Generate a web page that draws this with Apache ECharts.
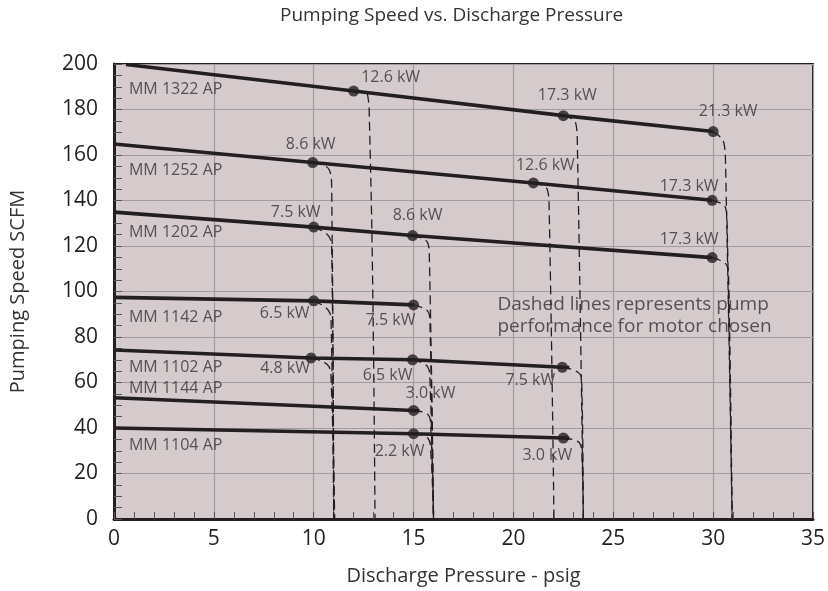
<!DOCTYPE html>
<html><head><meta charset="utf-8">
<script src="https://cdn.jsdelivr.net/npm/echarts@6/dist/echarts.min.js"></script>
<style>html,body{margin:0;padding:0;background:#fff}#c{width:828px;height:591px}</style>
</head><body><div id="c"></div>
<script>
// ---------------- DATA ----------------
const titleText = 'Pumping Speed vs. Discharge Pressure';
const xName = 'Discharge Pressure - psig';
const yName = 'Pumping Speed SCFM';
const noteText = 'Dashed lines represents pump\nperformance for motor chosen';

const models = ['MM 1322 AP','MM 1252 AP','MM 1202 AP','MM 1142 AP','MM 1102 AP','MM 1144 AP','MM 1104 AP'];

// solid pump curves [psig, SCFM]
const line1322 = [[0.6,199.8],[12.0,188.1],[22.5,177.3],[30.0,170.3]];
const line1252 = [[0,164.8],[9.95,156.7],[21.0,147.7],[29.95,140.1]];
const line1202 = [[0,134.9],[10.0,128.3],[14.95,124.6],[29.95,114.9]];
const line1142 = [[0,97.4],[10.0,95.9],[15.0,94.1]];
const line1102 = [[0,74.3],[9.87,70.8],[14.95,70.0],[22.45,66.7],[22.8,66.6]];
const line1144 = [[0,53.3],[15.0,47.7],[15.3,47.6]];
const line1104 = [[0,40.0],[15.0,37.5],[22.5,35.6],[22.8,35.5]];

// motor points [psig, SCFM, label]
const dots1322 = [[12.0,188.1,'12.6 kW'],[22.5,177.3,'17.3 kW'],[30.0,170.3,'21.3 kW']];
const dots1252 = [[9.95,156.7,'8.6 kW'],[21.0,147.7,'12.6 kW'],[29.95,140.1,'17.3 kW']];
const dots1202 = [[10.0,128.3,'7.5 kW'],[14.95,124.6,'8.6 kW'],[29.95,114.9,'17.3 kW']];
const dots1142 = [[10.0,95.9,'6.5 kW'],[15.0,94.1,'7.5 kW']];
const dots1102 = [[9.87,70.8,'4.8 kW'],[14.95,70.0,'6.5 kW'],[22.45,66.7,'7.5 kW']];
const dots1144 = [[15.0,47.7,'3.0 kW']];
const dots1104 = [[15.0,37.5,'2.2 kW'],[22.5,35.6,'3.0 kW']];

// dashed motor-limit curves [psig, SCFM]
const dash1322a = [[12.0,188.1],[12.6,187.4],[12.73,184.6],[12.78,178.4],[12.95,105],[13.07,0]];
const dash1322b = [[22.5,177.3],[23.12,174.0],[23.2,165.2],[23.5,0]];
const dash1322c = [[30.0,170.3],[30.54,165.2],[30.62,156.5],[30.95,0]];
const dash1252a = [[9.95,156.7],[10.79,153.3],[10.9,144.8],[11.0,0]];
const dash1252b = [[21.0,147.7],[21.7,144.8],[21.79,136.1],[22.03,0]];
const dash1252c = [[29.95,140.1],[30.62,136.8],[30.7,130.0],[30.95,0]];
const dash1202a = [[10.0,128.3],[10.75,124.3],[10.9,118.5],[11.0,0]];
const dash1202b = [[14.95,124.6],[15.7,121.5],[15.79,115.6],[16.0,0]];
const dash1202c = [[29.95,114.9],[30.7,111.2],[30.78,105.0],[30.95,0]];
const dash1142a = [[10.0,95.9],[10.75,91.5],[10.87,86.4],[11.0,0]];
const dash1142b = [[15.0,94.1],[15.75,90.8],[15.82,86.4],[16.0,0]];
const dash1102a = [[9.87,70.8],[10.75,67.2],[10.87,61.6],[11.05,0]];
const dash1102b = [[14.95,70.0],[15.72,66.7],[15.82,61.0],[16.0,0]];
const dash1102c = [[22.45,66.7],[23.3,64.0],[23.42,60.0],[23.5,0]];
const dash1144  = [[15.0,47.7],[15.7,46.0],[15.85,42.0],[16.0,0]];
const dash1104a = [[15.0,37.5],[15.72,35.5],[15.85,31.0],[16.0,0]];
const dash1104b = [[22.5,35.6],[23.3,33.5],[23.42,29.0],[23.5,0]];

// ---------------- LAYOUT / STYLE ----------------
const FONT = 'Open Sans';
const INK = '#231f20';
const TXT = '#363132';
const modelLabelAnchors = [[0.75,188.9],[0.75,153.2],[0.75,126.1],[0.75,88.6],[0.75,66.7],[0.75,57.5],[0.75,32.4]];
const noteAnchor = [19.2, 89.6];
const kwOffsets = {
  '1322': [[37,-14],[4,-20],[15,-20]],
  '1252': [[-2,-18],[12,-18],[-23,-14]],
  '1202': [[-18,-15],[5,-20],[-23,-18]],
  '1142': [[-29,13],[-23,16]],
  '1102': [[-26,11],[-25,16],[-32,13]],
  '1144': [[17,-17]],
  '1104': [[-14,18],[-16,17]]
};

const solidLines = {'1322':line1322,'1252':line1252,'1202':line1202,'1142':line1142,'1102':line1102,'1144':line1144,'1104':line1104};
const dotSets = {'1322':dots1322,'1252':dots1252,'1202':dots1202,'1142':dots1142,'1102':dots1102,'1144':dots1144,'1104':dots1104};
const dashSets = [dash1322a,dash1322b,dash1322c,dash1252a,dash1252b,dash1252c,dash1202a,dash1202b,dash1202c,
  dash1142a,dash1142b,dash1102a,dash1102b,dash1102c,dash1144,dash1104a,dash1104b];

const series = [];
dashSets.forEach(d => series.push({
  type:'line', data:d, smooth:0.45, symbol:'none', silent:true, z:3,
  lineStyle:{color:INK, width:1.3, type:[9,5]}
}));
Object.keys(solidLines).forEach(k => series.push({
  type:'line', data:solidLines[k], symbol:'none', silent:true, z:4,
  lineStyle:{color:INK, width:3.6}
}));
Object.keys(dotSets).forEach(k => series.push({
  type:'scatter', symbolSize:11, silent:true, z:5,
  itemStyle:{color:INK},
  data: dotSets[k].map((p,i) => ({
    value:[p[0],p[1]],
    label:{show:true, formatter:p[2], position:'inside', offset:kwOffsets[k][i],
      align:'center', verticalAlign:'middle', fontFamily:FONT, fontSize:16, color:TXT}
  }))
}));
series.push({
  type:'scatter', symbolSize:0, silent:true, z:6,
  data: models.map((m,i) => ({value:modelLabelAnchors[i], name:m})),
  label:{show:true, position:'right', distance:0, formatter:p=>p.name, fontFamily:FONT, fontSize:16, color:TXT}
});
series.push({
  type:'scatter', symbolSize:0, silent:true, z:6,
  data:[{value:noteAnchor, name:noteText}],
  label:{show:true, position:'right', distance:0, formatter:p=>p.name, fontFamily:FONT, fontSize:19, lineHeight:22, color:TXT}
});

const chart = echarts.init(document.getElementById('c'), null, {renderer:'canvas'});
chart.setOption({
  animation:false,
  backgroundColor:'#ffffff',
  title:{text:titleText, left:275, top:1, textStyle:{fontFamily:FONT, fontSize:19, fontWeight:'normal', color:TXT}},
  grid:{left:114, right:14, top:64, bottom:70, show:true, backgroundColor:'#d5cbcd', borderColor:INK, borderWidth:2},
  xAxis:{type:'value', min:0, max:35, interval:5,
    name:xName, nameLocation:'middle', nameGap:47,
    nameTextStyle:{fontFamily:FONT, fontSize:20, color:TXT},
    axisLine:{show:true, onZero:false, lineStyle:{color:INK, width:3}},
    axisTick:{show:true, inside:true, length:7, lineStyle:{color:'#5a5556'}},
    minorTick:{show:true, splitNumber:5, length:7, lineStyle:{color:'#5a5556'}},
    splitLine:{show:true, lineStyle:{color:'#a09d9f', width:1.2}},
    axisLabel:{margin:10, fontFamily:FONT, fontSize:21, color:INK}
  },
  yAxis:{type:'value', min:0, max:200, interval:20,
    name:yName, nameLocation:'middle', nameGap:86, nameRotate:90,
    nameTextStyle:{fontFamily:FONT, fontSize:20, color:TXT},
    axisLine:{show:true, onZero:false, lineStyle:{color:INK, width:3}},
    axisTick:{show:true, inside:true, length:8, lineStyle:{color:'#5a5556'}},
    minorTick:{show:true, splitNumber:4, length:8, lineStyle:{color:'#5a5556'}},
    splitLine:{show:true, lineStyle:{color:'#a09d9f', width:1.2}},
    axisLabel:{margin:16, fontFamily:FONT, fontSize:21, color:INK}
  },
  series:series
});
</script></body></html>
